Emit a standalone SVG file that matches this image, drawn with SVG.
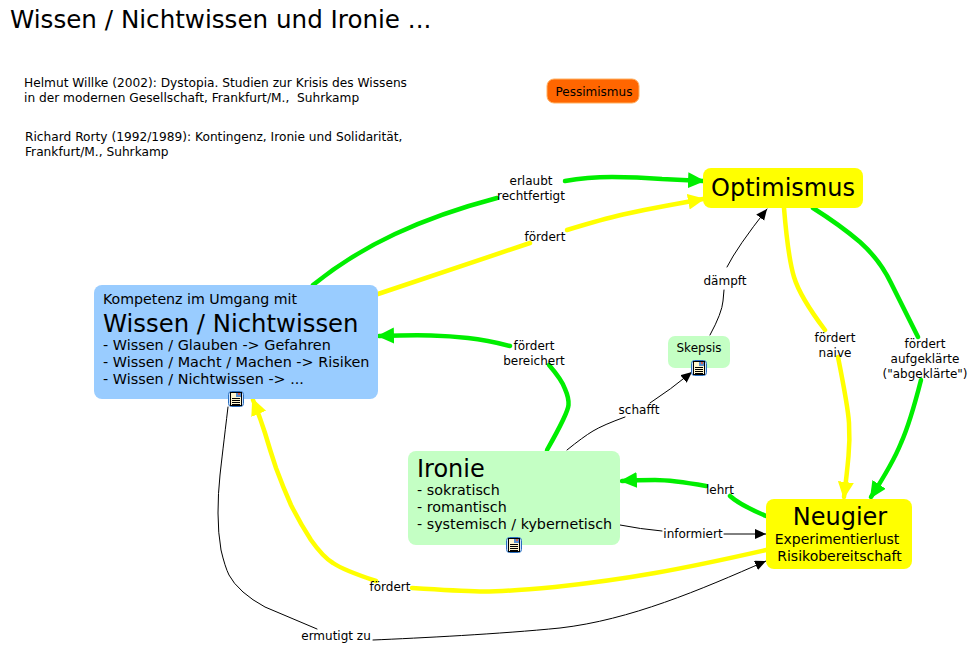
<svg xmlns="http://www.w3.org/2000/svg" width="971" height="645" viewBox="0 0 971 645">
<style>
text{font-family:"DejaVu Sans",Verdana,sans-serif;fill:#000}
.s{font-size:12px}.r{font-size:12.2px}.m{font-size:14px}.n{font-size:14.3px}
.c{text-anchor:middle}
.g,.y,.k{fill:none;stroke-linecap:round;stroke-linejoin:round}
.g{stroke:#00ee00;stroke-width:4.5px}
.y{stroke:#ffff00;stroke-width:4.5px}
.k{stroke:#000;stroke-width:1px}
</style>
<defs>
<marker id="ag" markerUnits="userSpaceOnUse" markerWidth="20" markerHeight="18" refX="15" refY="8" orient="auto"><path d="M0 0L17 8L0 16Z" fill="#00ee00"/></marker>
<marker id="ay" markerUnits="userSpaceOnUse" markerWidth="20" markerHeight="18" refX="15" refY="8" orient="auto"><path d="M0 0L17 8L0 16Z" fill="#ffff00"/></marker>
<marker id="ak" markerUnits="userSpaceOnUse" markerWidth="14" markerHeight="12" refX="11" refY="5" orient="auto"><path d="M0 0L11 5L0 10Z" fill="#000"/></marker>
<g id="doc"><rect x="0.500" y="0.500" width="15" height="15" rx="3" fill="#cfe2fa" stroke="#2a6fc0"/><rect x="2.500" y="1.500" width="11" height="13" fill="#fff6cf" stroke="#000"/><rect x="8" y="2" width="5" height="4" fill="#5a8fd0"/><rect x="10" y="2" width="2" height="2" fill="#d06050"/><path d="M4 7.500h8M4 9.500h8M4 11.500h8M4 13.500h8" stroke="#000"/></g>
</defs>
<text x="10" y="28" font-size="24.6">Wissen / Nichtwissen und Ironie ...</text>
<g id="ref1"><text class="r" x="24" y="87">Helmut Willke (2002): Dystopia. Studien zur Krisis des Wissens</text><text class="r" x="24" y="102" xml:space="preserve">in der modernen Gesellschaft, Frankfurt/M.,  Suhrkamp</text></g>
<g id="ref2"><text class="r" x="25" y="141">Richard Rorty (1992/1989): Kontingenz, Ironie und Solidarität,</text><text class="r" x="25" y="156">Frankfurt/M., Suhrkamp</text></g>
<g id="connectors">
<path class="g" d="M313 285Q350 255 395 234Q440 213 497 198"/>
<path class="g" marker-end="url(#ag)" d="M565 181Q587 177 612 177Q637 177 662 179L703 181"/>
<path class="y" d="M378 294L530 243"/>
<path class="y" marker-end="url(#ay)" d="M567 230Q603 219 623 214.500Q643 210 665 206L703 199"/>
<path class="g" d="M547 450Q568 413 568.500 405Q569 398 565 389Q562 380 549 365"/>
<path class="g" marker-end="url(#ag)" d="M510 346Q487 340 468 338Q450 336 431 335.500Q413 335 379 336"/>
<path class="k" d="M567 450Q583 437 593 431Q603 425 625 417"/>
<path class="k" marker-end="url(#ak)" d="M650 403Q670 390 692 372"/>
<path class="k" d="M710 335Q722 313 723 301L724 290"/>
<path class="k" marker-end="url(#ak)" d="M727 267Q737 247 767 209"/>
<path class="y" d="M784 208Q788 257 794 277Q800 297 825 330"/>
<path class="y" marker-end="url(#ay)" d="M838 357Q848 407 849 423Q850 440 848.500 456Q847 473 844 497"/>
<path class="g" d="M813 208Q840 225 860 242Q880 260 891 283Q903 307 918 337"/>
<path class="g" marker-end="url(#ag)" d="M921 380Q910 423 901 443Q893 463 871 497"/>
<path class="g" d="M766 516Q740 505 730 496"/>
<path class="g" marker-end="url(#ag)" d="M706 486Q672 480 655 480Q638 480 622 481"/>
<path class="k" d="M620 525Q640 529 662 531"/>
<path class="k" marker-end="url(#ak)" d="M724 534H766"/>
<path class="y" d="M766 550Q700 565 655 573Q610 581 555 587Q500 592 480 591.500Q460 591 412 588"/>
<path class="y" marker-end="url(#ay)" d="M376 581Q343 570 333 563Q323 557 311 540Q300 523 291 505Q283 487 276 468Q270 450 265 433Q260 417 253 400"/>
<path class="k" d="M228 407Q222 457 220 475Q218 493 218 513Q218 533 221 550Q225 567 229 575Q233 583 243 592Q252 600 265 607L317 629"/>
<path class="k" marker-end="url(#ak)" d="M373 640C420 638 500 634 560 628C630 620 700 590 766 561"/>
</g>
<g id="edge-labels" class="s">
<text class="c" x="531" y="185">erlaubt</text><text class="c" x="531" y="200">rechtfertigt</text>
<text class="c" x="545" y="241">fördert</text>
<text class="c" x="534" y="350">fördert</text><text class="c" x="534" y="365">bereichert</text>
<text class="c" x="639" y="414">schafft</text>
<text class="c" x="725" y="285">dämpft</text>
<text class="c" x="835" y="342">fördert</text><text class="c" x="835" y="357">naive</text>
<text class="c" x="925" y="348">fördert</text><text class="c" x="925" y="363">aufgeklärte</text><text class="c" x="925" y="378">("abgeklärte")</text>
<text class="c" x="720" y="494">lehrt</text>
<text class="c" x="693" y="538">informiert</text>
<text class="c" x="390" y="591">fördert</text>
<text class="c" x="336" y="640">ermutigt zu</text>
</g>
<g id="pessimismus"><rect x="547" y="79" width="92" height="24" rx="7" fill="#ff6600" stroke="#ffb060"/><text class="s c" x="594" y="96">Pessimismus</text></g>
<g id="optimismus"><rect x="703" y="168" width="160" height="40" rx="8" fill="#ffff00"/><text class="c" x="783" y="196" font-size="24">Optimismus</text></g>
<g id="wissen"><rect x="94" y="285" width="284" height="114" rx="8" fill="#99ccff"/>
<text x="103" y="304" font-size="14.2">Kompetenz im Umgang mit</text>
<text x="103" y="332" font-size="24.350">Wissen / Nichtwissen</text>
<text x="103" y="350" font-size="14.4">- Wissen / Glauben -&gt; Gefahren</text>
<text x="103" y="367" font-size="14.4">- Wissen / Macht / Machen -&gt; Risiken</text>
<text x="103" y="384" font-size="14.4">- Wissen / Nichtwissen -&gt; ...</text>
<use href="#doc" x="228" y="391"/></g>
<g id="skepsis"><rect x="668" y="336" width="62" height="32" rx="7" fill="#c4ffc4"/><text class="s c" x="699" y="352">Skepsis</text><use href="#doc" x="691" y="360"/></g>
<g id="ironie"><rect x="408" y="451" width="212" height="94" rx="8" fill="#c4ffc4"/>
<text x="417" y="477" font-size="24">Ironie</text>
<text class="n" x="417" y="495">- sokratisch</text>
<text class="n" x="417" y="512">- romantisch</text>
<text class="n" x="417" y="529">- systemisch / kybernetisch</text>
<use href="#doc" x="506" y="537"/></g>
<g id="neugier"><rect x="766" y="499" width="146" height="70" rx="8" fill="#ffff00"/>
<text class="c" x="840" y="525" font-size="24">Neugier</text>
<text class="m c" x="837" y="544">Experimentierlust</text>
<text class="m c" x="839.500" y="561">Risikobereitschaft</text></g>
</svg>
